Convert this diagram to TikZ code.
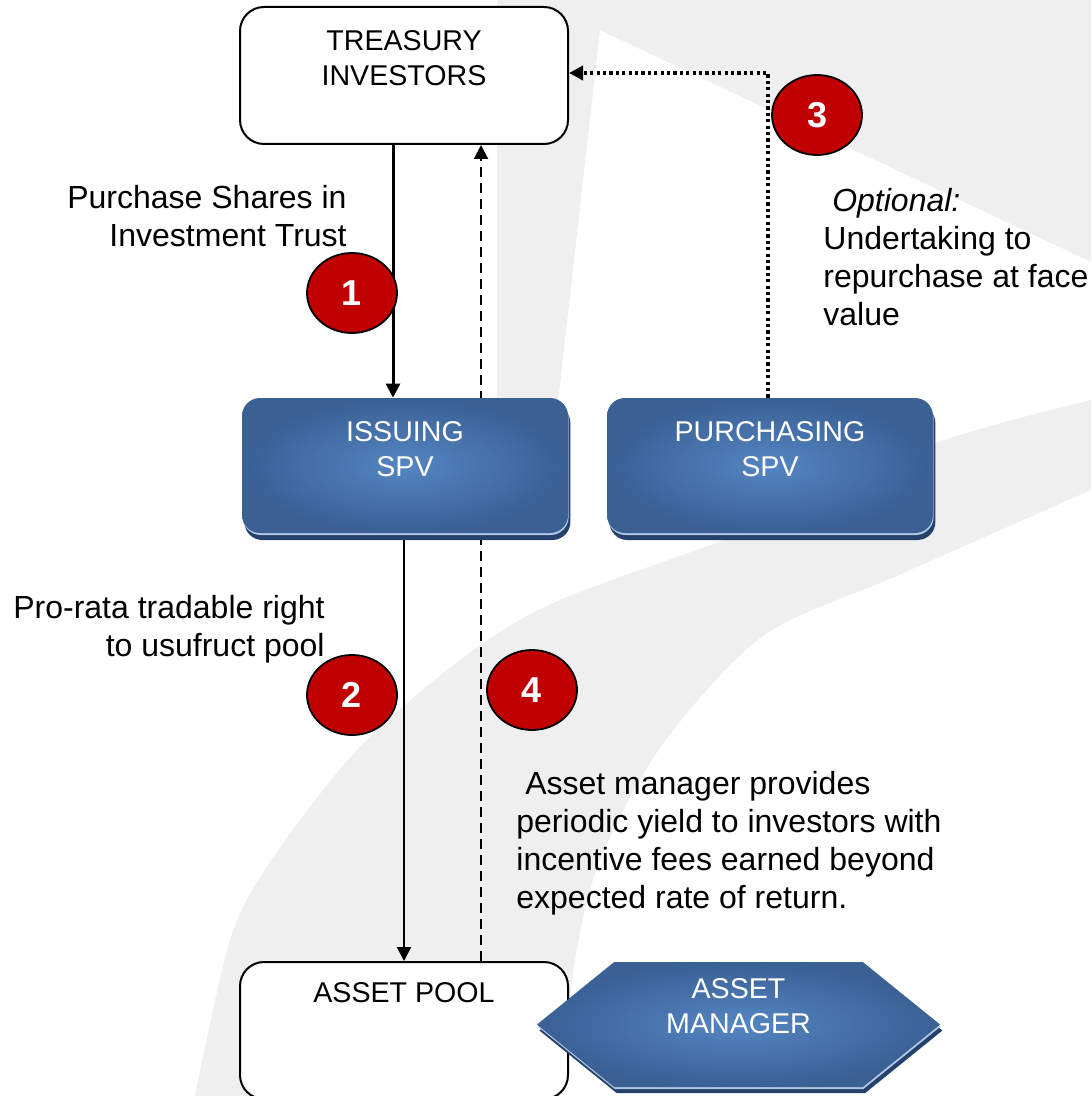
\documentclass[tikz,border=0pt]{standalone}
\usepackage{fontspec}
\setmainfont{Liberation Sans}
\usetikzlibrary{arrows.meta,shapes.geometric,shapes.symbols,shadows,backgrounds}

\definecolor{spvinner}{RGB}{84,133,194}
\definecolor{spvouter}{RGB}{58,96,148}
\definecolor{spvshadow}{RGB}{38,66,108}
\definecolor{spvlight}{RGB}{175,198,228}
\definecolor{stepred}{RGB}{192,0,0}
\definecolor{wmgray}{RGB}{239,239,239}

\begin{document}
\begin{tikzpicture}[x=0.5pt,y=-0.5pt,
    whitebox/.style={draw,line width=1pt,fill=white,rounded corners=12pt,minimum width=164pt,minimum height=68.5pt,inner sep=0pt},
    bluebox/.style={rounded corners=9pt,minimum width=163pt,minimum height=67.5pt,inner sep=0pt,
        drop shadow={shadow xshift=1.2pt,shadow yshift=-3.5pt,fill=spvshadow,opacity=1},
        drop shadow={shadow xshift=0.3pt,shadow yshift=-1pt,fill=spvlight,opacity=1},
        shading=radial,inner color=spvinner,outer color=spvouter},
    boxtext/.style={align=center,inner sep=0pt,font=\fontsize{14.3}{17.5}\selectfont},
    stepmark/.style={ellipse,draw,line width=0.9pt,fill=stepred,text=white,inner sep=0pt,
        minimum width=45pt,minimum height=40pt,font=\bfseries\fontsize{18}{18}\selectfont},
    note/.style={inner sep=0pt,font=\fontsize{16}{19}\selectfont},
    flow/.style={-{Triangle[length=7pt,width=7pt]}}]
\useasboundingbox (0,0) rectangle (1091,1096);

\node[whitebox,label={[boxtext,anchor=north,label distance=-12pt]90:{TREASURY\\INVESTORS}}] (treasury) at (404,75.5) {};
\node[bluebox,label={[boxtext,text=white,anchor=north,label distance=-12pt]90:{ISSUING\\SPV}}] (issuing) at (405,465.5) {};
\node[bluebox,label={[boxtext,text=white,anchor=north,label distance=-12pt]90:{PURCHASING\\SPV}}] (purchasing) at (770,465.5) {};
\node[whitebox,label={[boxtext,anchor=north,label distance=-10.5pt]90:{ASSET POOL}}] (assetpool) at (404,1030.5) {};
\node[signal,signal to=west and east,signal pointer angle=78,minimum width=201.5pt,minimum height=62.5pt,inner sep=0pt,
    drop shadow={shadow xshift=1.2pt,shadow yshift=-3pt,fill=spvshadow,opacity=1},
    drop shadow={shadow xshift=0.3pt,shadow yshift=-1pt,fill=spvlight,opacity=1},
    shading=radial,inner color=spvinner,outer color=spvouter,
    label={[boxtext,text=white,anchor=north,label distance=-8.5pt]90:{ASSET\\MANAGER}}] (manager) at (738.5,1024.5) {};

\node[stepmark] (s1) at (352,293) {1};
\node[stepmark] (s2) at (352,695) {2};
\node[stepmark] (s3) at (817,115) {3};
\node[stepmark] (s4) at (532,690) {4};

\node[note,align=right,anchor=north east] (purchasenote) at (347,185) {Purchase Shares in\\Investment Trust};
\node[note,align=left,anchor=north west] (optionnote) at (823,188) {\ \textit{Optional:}\\Undertaking to\\repurchase at face\\value};
\node[note,align=right,anchor=north east] (rightnote) at (325,595) {Pro-rata tradable right\\to usufruct pool};
\node[note,align=left,anchor=north west] (yieldnote) at (516,771) {\ Asset manager provides\\periodic yield to investors with\\incentive fees earned beyond\\expected rate of return.};

\begin{scope}[on background layer]
\fill[wmgray] (497,0) -- (1091,0) -- (1091,262) -- (600,30) -- (556,420) -- (497,420) -- cycle;
\fill[wmgray] plot[smooth] coordinates {(195,1096) (230,940) (270,862) (357,750) (464,657) (560,600) (763,525) (933,444) (1091,400)}
    -- plot[smooth] coordinates {(1091,490) (899,575) (763,636) (662,745) (600,860) (575,960) (560,1096)} -- cycle;

\draw[flow,line width=1.5pt] ([xshift=-5.5pt]treasury.south) -- ([xshift=-5.5pt]treasury.south |- issuing.north);
\draw[flow,line width=1pt] (assetpool.north |- issuing.south) -- (assetpool.north);
\draw[flow,line width=1pt,dash pattern=on 5pt off 3pt] ([xshift=38.5pt]assetpool.north) -- ([xshift=38.5pt]treasury.south);
\draw[flow,line width=1.75pt,dash pattern=on 1.6pt off 1.6pt] ([xshift=-1pt]purchasing.north) |- ([yshift=1.25pt]treasury.east);
\end{scope}
\end{tikzpicture}
\end{document}
